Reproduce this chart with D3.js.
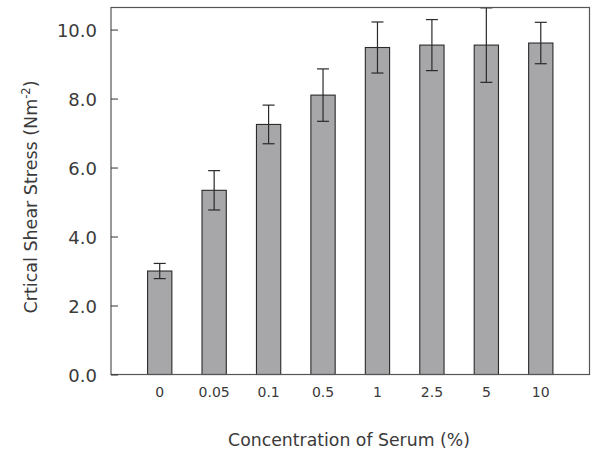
<!DOCTYPE html>
<html>
<head>
<meta charset="utf-8">
<script src="https://cdn.jsdelivr.net/npm/d3@7"></script>
<style>
body { margin: 0; background: #fff; }
svg text { font-family: "DejaVu Sans", sans-serif; fill: #3a3a3a; }
</style>
</head>
<body>
<svg id="chart" width="591" height="453"></svg>
<script>
// serum concentration (%) vs critical shear stress
var categories = ["0", "0.05", "0.1", "0.5", "1", "2.5", "5", "10"];
var stress = [3.0, 5.34, 7.25, 8.1, 9.48, 9.55, 9.55, 9.61];
var errors = [0.22, 0.57, 0.56, 0.76, 0.74, 0.74, 1.08, 0.6];
var yTicks = [0, 2, 4, 6, 8, 10];

var svg = d3.select("#chart");
var plot = {left: 111, right: 589.5, top: 7.5, bottom: 374.5};

var x = d3.scaleBand()
    .domain(categories)
    .range([plot.left, plot.right])
    .paddingInner(0.554)
    .paddingOuter(0.672);

var y = d3.scaleLinear()
    .domain([0, 10.64])
    .range([plot.bottom, plot.top]);

var data = categories.map(function(c, i) {
	return {cat: c, v: stress[i], e: errors[i]};
});

// bars
svg.append("g").selectAll("rect")
    .data(data)
    .enter().append("rect")
    .attr("x", function(d) { return x(d.cat); })
    .attr("y", function(d) { return y(d.v); })
    .attr("width", x.bandwidth())
    .attr("height", function(d) { return y(0) - y(d.v); })
    .attr("fill", "#a7a7aa")
    .attr("stroke", "#2a2a2a")
    .attr("stroke-width", 1.1);

// error bars
var eb = svg.append("g").attr("stroke", "#2a2a2a").attr("stroke-width", 1.2);
data.forEach(function(d) {
	var cx = x(d.cat) + x.bandwidth() / 2;
	eb.append("line")
	  .attr("x1", cx).attr("x2", cx)
	  .attr("y1", y(d.v + d.e)).attr("y2", y(d.v - d.e));
	eb.append("line")
	  .attr("x1", cx - 6).attr("x2", cx + 6)
	  .attr("y1", y(d.v + d.e)).attr("y2", y(d.v + d.e));
	eb.append("line")
	  .attr("x1", cx - 6).attr("x2", cx + 6)
	  .attr("y1", y(d.v - d.e)).attr("y2", y(d.v - d.e));
});

// frame
svg.append("rect")
    .attr("x", plot.left).attr("y", plot.top)
    .attr("width", plot.right - plot.left).attr("height", plot.bottom - plot.top)
    .attr("fill", "none")
    .attr("stroke", "#555")
    .attr("stroke-width", 1.2);

// y axis, ticks pointing inward
var yAxis = svg.append("g")
    .attr("transform", "translate(" + plot.left + ",0)")
    .call(d3.axisLeft(y)
        .tickValues(yTicks)
        .tickSize(-7)
        .tickPadding(14)
        .tickFormat(d3.format(".1f")));
yAxis.select(".domain").remove();
yAxis.selectAll(".tick line").attr("stroke", "#333");
yAxis.selectAll("text")
    .attr("font-size", 18)
    .attr("dy", "0.37em")
    .attr("font-family", null)
    .attr("fill", null);

// x axis labels
var xAxis = svg.append("g")
    .attr("transform", "translate(0," + plot.bottom + ")")
    .call(d3.axisBottom(x).tickSize(0).tickPadding(13));
xAxis.select(".domain").remove();
xAxis.selectAll("text")
    .attr("font-size", 14)
    .attr("font-family", null)
    .attr("fill", null);

// axis titles
svg.append("text")
    .attr("x", 349).attr("y", 446)
    .attr("text-anchor", "middle")
    .attr("font-size", 17.3)
    .text("Concentration of Serum (%)");

var yt = svg.append("text")
    .attr("transform", "translate(37,197) rotate(-90)")
    .attr("text-anchor", "middle")
    .attr("font-size", 17.5);
yt.append("tspan").text("Crtical Shear Stress (Nm");
yt.append("tspan").attr("font-size", 11.5).attr("dy", -7).text("-2");
yt.append("tspan").attr("dy", 7).text(")");
</script>
</body>
</html>
